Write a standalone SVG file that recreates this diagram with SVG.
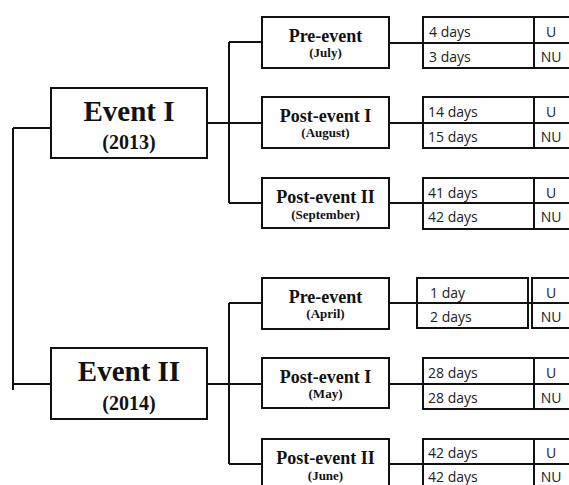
<svg xmlns="http://www.w3.org/2000/svg" width="569" height="485" viewBox="0 0 569 485">
<style>
.box{fill:#fff;stroke:#111;stroke-width:2}
.ln{fill:none;stroke:#111;stroke-width:2}
.ev{font-family:"Liberation Serif","Times New Roman",serif;font-weight:bold;font-size:29px;fill:#111;text-anchor:middle}
.yr{font-family:"Liberation Serif","Times New Roman",serif;font-weight:bold;font-size:20px;fill:#111;text-anchor:middle}
.st{font-family:"Liberation Serif","Times New Roman",serif;font-weight:bold;font-size:18px;fill:#111;text-anchor:middle}
.mo{font-family:"Liberation Serif","Times New Roman",serif;font-weight:bold;font-size:13px;fill:#111;text-anchor:middle}
.tb{font-family:"Open Sans","Noto Sans",sans-serif;font-size:14px;fill:#222}
.tc{font-family:"Open Sans","Noto Sans",sans-serif;font-size:14px;fill:#222;text-anchor:middle}
</style>
<rect width="569" height="485" fill="#fff"/>
<g id="connectors">
<path class="ln" d="M13 128V390M13 128H51M13 384H51"/>
<path class="ln" d="M207 123H262M229 42V203M229 42H262M229 203H262"/>
<path class="ln" d="M207 384H262M229 303V464M229 303H262M229 464H262"/>
<path class="ln" d="M389 43H423M389 123H423M389 203H423"/>
<path class="ln" d="M389 303H417M528 303H532M389 384H423M389 464H423"/>
</g>
<g id="event1">
<rect class="box" x="51" y="88" width="156" height="70"/>
<text class="ev" x="129" y="121">Event I</text>
<text class="yr" x="129" y="149">(2013)</text>
</g>
<g id="event2">
<rect class="box" x="51" y="348" width="156" height="71"/>
<text class="ev" x="129" y="381">Event II</text>
<text class="yr" x="129" y="410">(2014)</text>
</g>
<g id="e1-pre">
<rect class="box" x="262" y="17" width="127" height="51"/>
<text class="st" x="325.5" y="42">Pre-event</text>
<text class="mo" x="325.5" y="57">(July)</text>
</g>
<g id="e1-post1">
<rect class="box" x="262" y="97" width="127" height="51"/>
<text class="st" x="325.5" y="122">Post-event I</text>
<text class="mo" x="325.5" y="137">(August)</text>
</g>
<g id="e1-post2">
<rect class="box" x="262" y="178" width="127" height="50"/>
<text class="st" x="325.5" y="203">Post-event II</text>
<text class="mo" x="325.5" y="219">(September)</text>
</g>
<g id="e2-pre">
<rect class="box" x="262" y="278" width="127" height="51"/>
<text class="st" x="325.5" y="303">Pre-event</text>
<text class="mo" x="325.5" y="318">(April)</text>
</g>
<g id="e2-post1">
<rect class="box" x="262" y="358" width="127" height="50"/>
<text class="st" x="325.5" y="383">Post-event I</text>
<text class="mo" x="325.5" y="398">(May)</text>
</g>
<g id="e2-post2">
<rect class="box" x="262" y="439" width="127" height="60"/>
<text class="st" x="325.5" y="464">Post-event II</text>
<text class="mo" x="325.5" y="480">(June)</text>
</g>
<g id="t1">
<rect class="box" x="423" y="17" width="160" height="51"/>
<path class="ln" d="M423 43H583M534 17V68"/>
<text class="tb" x="429" y="37">4 days</text>
<text class="tb" x="429" y="62">3 days</text>
<text class="tc" x="551" y="37">U</text>
<text class="tc" x="551" y="62">NU</text>
</g>
<g id="t2">
<rect class="box" x="423" y="97" width="160" height="51"/>
<path class="ln" d="M423 123H583M534 97V148"/>
<text class="tb" x="428" y="117">14 days</text>
<text class="tb" x="428" y="142">15 days</text>
<text class="tc" x="551" y="117">U</text>
<text class="tc" x="551" y="142">NU</text>
</g>
<g id="t3">
<rect class="box" x="423" y="178" width="160" height="51"/>
<path class="ln" d="M423 203H583M534 178V229"/>
<text class="tb" x="428" y="198">41 days</text>
<text class="tb" x="428" y="222">42 days</text>
<text class="tc" x="551" y="198">U</text>
<text class="tc" x="551" y="222">NU</text>
</g>
<g id="t4">
<rect class="box" x="417" y="278" width="111" height="50"/>
<path class="ln" d="M417 303H528"/>
<rect class="box" x="532" y="278" width="51" height="50"/>
<path class="ln" d="M532 303H583"/>
<text class="tb" x="430" y="298">1 day</text>
<text class="tb" x="430" y="322">2 days</text>
<text class="tc" x="551" y="298">U</text>
<text class="tc" x="551" y="322">NU</text>
</g>
<g id="t5">
<rect class="box" x="423" y="358" width="160" height="51"/>
<path class="ln" d="M423 384H583M534 358V409"/>
<text class="tb" x="428" y="378">28 days</text>
<text class="tb" x="428" y="403">28 days</text>
<text class="tc" x="551" y="378">U</text>
<text class="tc" x="551" y="403">NU</text>
</g>
<g id="t6">
<rect class="box" x="423" y="439" width="160" height="60"/>
<path class="ln" d="M423 464H583M534 439V499"/>
<text class="tb" x="428" y="458">42 days</text>
<text class="tb" x="428" y="482">42 days</text>
<text class="tc" x="551" y="458">U</text>
<text class="tc" x="551" y="482">NU</text>
</g>
</svg>
